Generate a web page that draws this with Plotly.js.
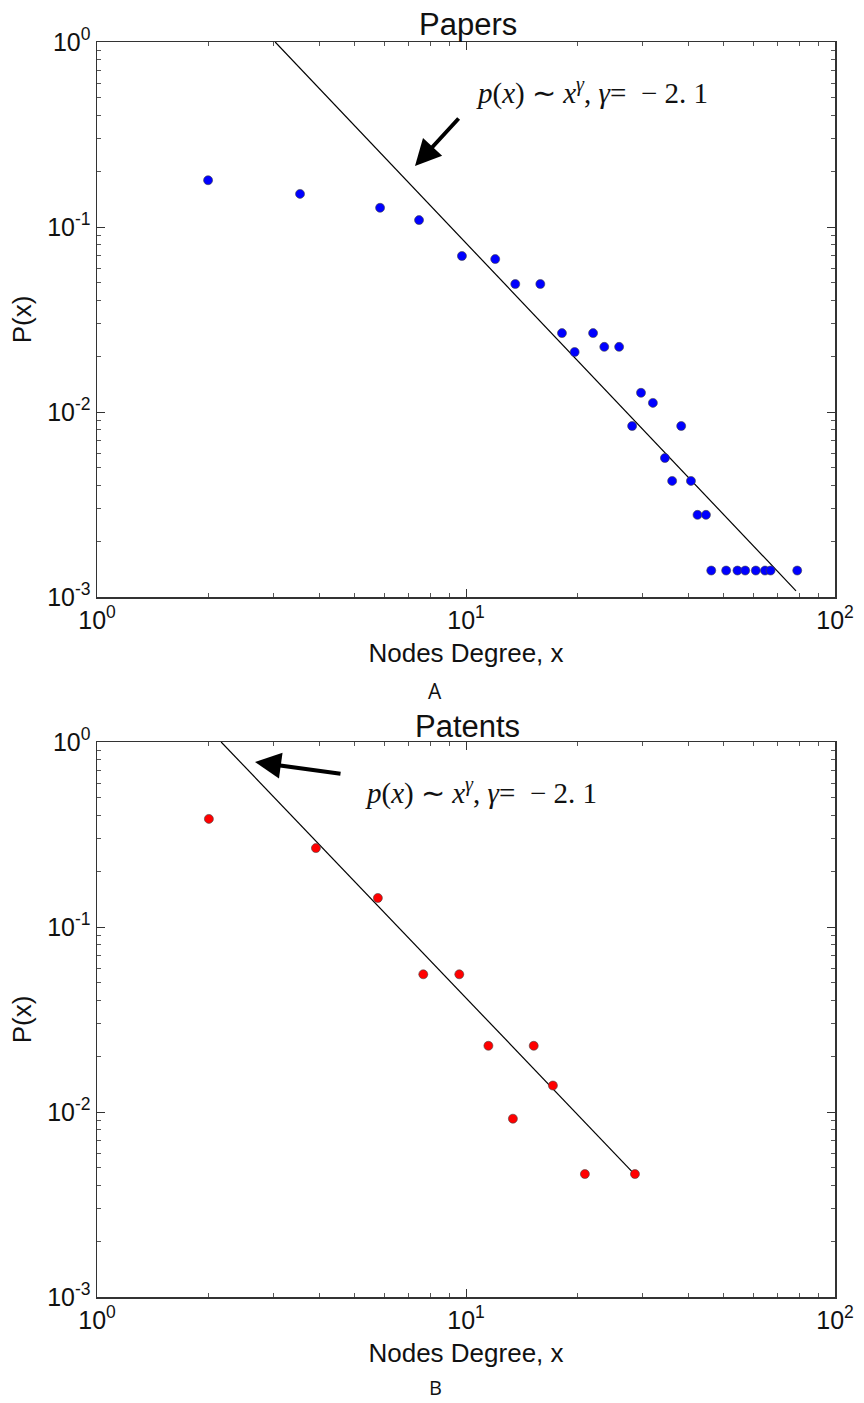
<!DOCTYPE html>
<html>
<head>
<meta charset="utf-8">
<script src="https://cdn.plot.ly/plotly-3.0.1.min.js"></script>
<style>html,body{margin:0;padding:0;background:#fff;}#chart{width:864px;height:1403px;}</style>
</head>
<body>
<div id="chart"></div>
<script>
// ---- Data ----
const papersX = [2.0, 3.55, 5.85, 7.46, 9.75, 12.0, 13.6, 15.9, 18.2, 19.7, 22.1, 23.7, 26.0, 28.2, 29.8, 32.1, 34.6, 36.2, 38.3, 40.7, 42.4, 44.7, 46.2, 50.7, 54.4, 57.1, 61.0, 64.6, 66.9, 79.0];
const papersY = [0.179, 0.151, 0.127, 0.109, 0.0697, 0.0671, 0.0492, 0.0492, 0.0267, 0.0211, 0.0267, 0.0225, 0.0225, 0.0084, 0.0127, 0.0112, 0.00564, 0.00424, 0.0084, 0.00424, 0.00278, 0.00278, 0.00139, 0.00139, 0.00139, 0.00139, 0.00139, 0.00139, 0.00139, 0.00139];
const papersFitX = [3.04, 78.4];
const papersFitY = [1.0, 0.00108];

const patentsX = [2.01, 3.92, 5.77, 7.66, 9.59, 11.5, 13.4, 15.26, 17.2, 21.0, 28.7];
const patentsY = [0.384, 0.267, 0.1435, 0.0555, 0.0555, 0.0228, 0.0092, 0.0228, 0.0139, 0.00462, 0.00462];
const patentsFitX = [2.17, 28.6];
const patentsFitY = [1.0, 0.00462];

const xTickVals = [1, 10, 100];
const xTickText = ['10<sup>0</sup>', '10<sup>1</sup>', '10<sup>2</sup>'];
const yTickVals = [0.001, 0.01, 0.1, 1];
const yTickText = ['10<sup>-3</sup>', '10<sup>-2</sup>', '10<sup>-1</sup>', '10<sup>0</sup>'];
const xMinorVals = [2,3,4,5,6,7,8,9,20,30,40,50,60,70,80,90];
const yMinorVals = [0.002,0.003,0.004,0.005,0.006,0.007,0.008,0.009,0.02,0.03,0.04,0.05,0.06,0.07,0.08,0.09,0.2,0.3,0.4,0.5,0.6,0.7,0.8,0.9];

const fitText = '<i>p</i>(<i>x</i>) ∼ <i>x</i><sup><i>γ</i></sup>, <i>γ</i>=  − 2. 1';
const titles = ['Papers', 'Patents'];
const panelLabels = ['A', 'B'];
const xTitle = 'Nodes Degree, x';
const yTitle = 'P(x)';

// ---- Styling ----
const W = 864, H = 1403;
const sans = 'Liberation Sans, Arial, sans-serif';
const markerLine = {color: '#444', width: 0.6};

function xAxis(anchor) {
  return {
    type: 'log', range: [0, 2], domain: [97 / W, 835 / W], anchor: anchor,
    tickmode: 'array', tickvals: xTickVals, ticktext: xTickText,
    ticks: 'inside', ticklen: 8, tickwidth: 1, tickcolor: '#333',
    minor: {tickmode: 'array', tickvals: xMinorVals, ticks: 'inside', ticklen: 4, tickwidth: 1, tickcolor: '#555'},
    showline: true, linecolor: '#333', linewidth: 1.5, mirror: 'ticks',
    showgrid: false, zeroline: false,
    tickfont: {family: sans, size: 25, color: '#111'},
    title: {text: xTitle, font: {family: sans, size: 26, color: '#111'}, standoff: 11}
  };
}
function yAxis(domain, anchor) {
  return {
    type: 'log', range: [-3, 0], domain: domain, anchor: anchor,
    tickmode: 'array', tickvals: yTickVals, ticktext: yTickText,
    ticks: 'inside', ticklen: 8, tickwidth: 1, tickcolor: '#333',
    minor: {tickmode: 'array', tickvals: yMinorVals, ticks: 'inside', ticklen: 4, tickwidth: 1, tickcolor: '#555'},
    showline: true, linecolor: '#333', linewidth: 1.5, mirror: 'ticks',
    showgrid: false, zeroline: false,
    tickfont: {family: sans, size: 25, color: '#111'},
    title: {text: yTitle, font: {family: sans, size: 26, color: '#111'}, standoff: 8}
  };
}

const traces = [
  {x: papersFitX, y: papersFitY, xaxis: 'x', yaxis: 'y', mode: 'lines', line: {color: '#000', width: 1.2}, showlegend: false, hoverinfo: 'skip'},
  {x: papersX, y: papersY, xaxis: 'x', yaxis: 'y', mode: 'markers', marker: {color: '#0000ff', size: 9, line: markerLine}, showlegend: false},
  {x: patentsFitX, y: patentsFitY, xaxis: 'x2', yaxis: 'y2', mode: 'lines', line: {color: '#000', width: 1.2}, showlegend: false, hoverinfo: 'skip'},
  {x: patentsX, y: patentsY, xaxis: 'x2', yaxis: 'y2', mode: 'markers', marker: {color: '#ff0000', size: 9, line: markerLine}, showlegend: false}
];

function px(x) { return x / W; }
function py(y) { return 1 - y / H; }

const annotations = [
  {text: titles[0], xref: 'paper', yref: 'paper', x: px(468), y: py(24), showarrow: false, xanchor: 'center', yanchor: 'middle', font: {family: sans, size: 31, color: '#111'}},
  {text: titles[1], xref: 'paper', yref: 'paper', x: px(468), y: py(726), showarrow: false, xanchor: 'center', yanchor: 'middle', font: {family: sans, size: 31, color: '#111'}},
  {text: panelLabels[0], xref: 'paper', yref: 'paper', x: px(435), y: py(691), showarrow: false, xanchor: 'center', yanchor: 'middle', font: {family: 'Open Sans, sans-serif', size: 21, color: '#111'}},
  {text: panelLabels[1], xref: 'paper', yref: 'paper', x: px(435), y: py(1387), showarrow: false, xanchor: 'center', yanchor: 'middle', font: {family: 'Open Sans, sans-serif', size: 20, color: '#111'}},
  {text: fitText, xref: 'paper', yref: 'paper', x: px(474), y: py(92), showarrow: false, xanchor: 'left', yanchor: 'middle', font: {family: 'Liberation Serif, serif', size: 29, color: '#111'}},
  {text: fitText, xref: 'paper', yref: 'paper', x: px(363), y: py(792), showarrow: false, xanchor: 'left', yanchor: 'middle', font: {family: 'Liberation Serif, serif', size: 29, color: '#111'}},
  {text: '', xref: 'paper', yref: 'paper', x: px(415), y: py(166), ax: 460 - 415, ay: 117 - 166, showarrow: true, arrowhead: 2, arrowsize: 1.3, arrowwidth: 4, arrowcolor: '#000'},
  {text: '', xref: 'paper', yref: 'paper', x: px(255), y: py(762), ax: 342 - 255, ay: 774 - 762, showarrow: true, arrowhead: 2, arrowsize: 1.3, arrowwidth: 4, arrowcolor: '#000'}
];

const layout = {
  width: W, height: H,
  margin: {l: 0, r: 0, t: 0, b: 0},
  paper_bgcolor: '#fff', plot_bgcolor: '#fff',
  xaxis: xAxis('y'),
  yaxis: yAxis([1 - 597 / H, 1 - 42 / H], 'x'),
  xaxis2: xAxis('y2'),
  yaxis2: yAxis([1 - 1297 / H, 1 - 742 / H], 'x2'),
  annotations: annotations,
  showlegend: false
};

Plotly.newPlot('chart', traces, layout, {displayModeBar: false, staticPlot: true});
</script>
</body>
</html>
